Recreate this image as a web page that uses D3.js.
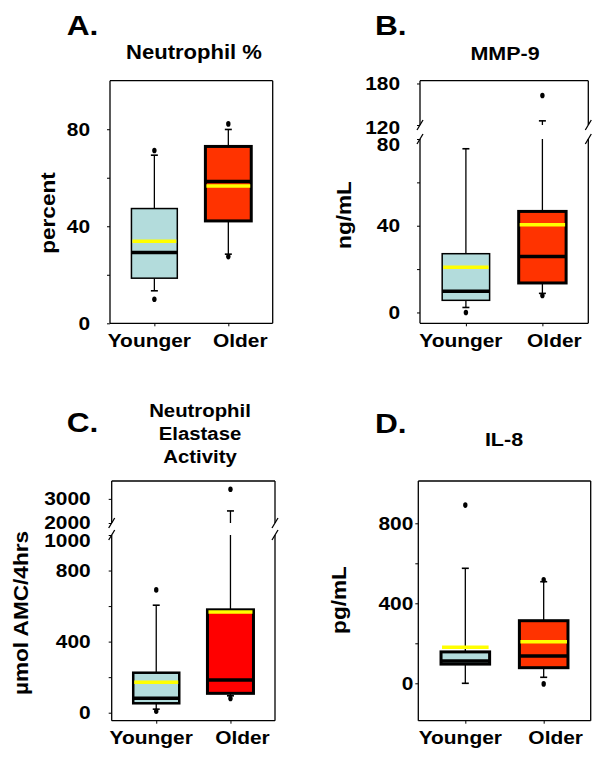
<!DOCTYPE html>
<html>
  <head>
    <meta charset="utf-8">
    <title>Box plots</title>
    <script src="https://d3js.org/d3.v7.min.js"></script>
    <style type="text/css">
      body { margin: 0; background: #fff; }
      text { font-family: "Liberation Sans", Arial, sans-serif; font-weight: bold; fill: #000; }
    </style>
  </head>
  <body>
    <script type="text/javascript">

      var groups = ["Younger", "Older"];

      // A. Neutrophil %
      var neutLow = [13.4, 28.5], neutQ1 = [18.6, 42.2], neutMed = [29.2, 58.5],
          neutQ3 = [47.3, 72.9], neutHigh = [69.3, 79.9], neutMean = [33.8, 56.6];
      var neutOut = [[9.9, 71.2], [27.5, 82.2]];

      // B. MMP-9 (ng/mL)
      var mmpLow = [2.3, 8.8], mmpQ1 = [5.6, 13.6], mmpMed = [9.8, 25.8],
          mmpQ3 = [27.1, 46.6], mmpHigh = [75.5, 126], mmpMean = [20.9, 40.5];
      var mmpOut = [[0], [7.8, 162.6]];

      // C. Neutrophil elastase activity (umol AMC/4hrs)
      var elaLow = [20, 95], elaQ1 = [53, 109], elaMed = [81, 184],
          elaQ3 = [225, 579], elaHigh = [605, 2500], elaMean = [171, 566];
      var elaOut = [[8, 691], [80, 3400]];

      // D. IL-8 (pg/mL)
      var ilLow = [0, 30], ilQ1 = [96, 78], ilMed = [111, 137],
          ilQ3 = [157, 313], ilHigh = [575, 508], ilMean = [180, 208];
      var ilOut = [[891], [-3, 518]];

      var stretch = 1.13;
      var blue = "#b3dcdc";

      var panels = [
        { letter: "A.", lx: 66.7, ly: 35, title: ["Neutrophil %"], tx: 194, ty: [59], tsize: 19.5,
          ylab: "percent", ylx: 55, yly: 213,
          frame: [110, 272.7, 80.7, 323.3], ydom: [0, 100], yrng: [323.3, 80.7], brk: null,
          major: [0, 40, 80], minor: [20, 60], pad: 17, red: "#ff3300", youngSw: 1.5,
          low: neutLow, q1: neutQ1, med: neutMed, q3: neutQ3, high: neutHigh, mean: neutMean, out: neutOut },
        { letter: "B.", lx: 375, ly: 35, title: ["MMP-9"], tx: 505, ty: [60], tsize: 19,
          ylab: "ng/mL", ylx: 351, yly: 215,
          frame: [420, 588.3, 80.7, 323.3], ydom: [-5, 80, 120, 184], yrng: [323.3, 139, 125, 80.7], brk: [80, 120],
          brkDy: ["0.6em", "0.45em"],
          major: [0, 40, 80, 120, 180], minor: [20, 60], pad: 17, red: "#ff3300", youngSw: 1.5,
          low: mmpLow, q1: mmpQ1, med: mmpMed, q3: mmpQ3, high: mmpHigh, mean: mmpMean, out: mmpOut },
        { letter: "C.", lx: 66.7, ly: 431.7, title: ["Neutrophil", "Elastase", "Activity"], tx: 200, ty: [416.7, 440, 463.3], tsize: 18,
          ylab: "\u00b5mol AMC/4hrs", ylx: 28, yly: 613,
          frame: [111.7, 275, 481, 720.7], ydom: [-45, 1000, 2000, 3740], yrng: [720.7, 535, 523, 481], brk: [1000, 2000],
          brkDy: ["0.62em", "0.3em"],
          major: [0, 400, 800, 1000, 2000, 3000], minor: [200, 600], pad: 18, red: "#ff0000", youngSw: 2.5,
          low: elaLow, q1: elaQ1, med: elaMed, q3: elaQ3, high: elaHigh, mean: elaMean, out: elaOut },
        { letter: "D.", lx: 375, ly: 433.3, title: ["IL-8"], tx: 504, ty: [446], tsize: 19,
          ylab: "pg/mL", ylx: 346, yly: 600,
          frame: [418.3, 590.7, 481, 720.7], ydom: [-187, 1011.5], yrng: [720.7, 481], brk: null,
          major: [0, 400, 800], minor: [200, 600], pad: 2, red: "#ff3300", youngSw: 3,
          low: ilLow, q1: ilQ1, med: ilMed, q3: ilQ3, high: ilHigh, mean: ilMean, out: ilOut }
      ];

      var svg = d3.select("body")
          .append("svg")
          .attr("width", 602)
          .attr("height", 762);

      panels.forEach(drawPanel);

      // the original lettering is a bit wider than Liberation Sans
      svg.selectAll("text").each(function() {
        var w = this.getComputedTextLength();
        d3.select(this).attr("textLength", w * stretch).attr("lengthAdjust", "spacingAndGlyphs");
      });

      function drawPanel(p) {
        var g = svg.append("g");
        var x0 = p.frame[0], x1 = p.frame[1], yTop = p.frame[2], yBot = p.frame[3];

        var x = d3.scalePoint().domain(groups).range([x0, x1]).padding(0.6);
        var y = d3.scaleLinear().domain(p.ydom).range(p.yrng);
        var bw = x.step() * 0.62;

        // headings
        g.append("text").attr("x", p.lx).attr("y", p.ly)
            .style("font-size", "28px").text(p.letter);
        p.title.forEach(function(t, i) {
          g.append("text").attr("x", p.tx).attr("y", p.ty[i])
              .attr("text-anchor", "middle").style("font-size", p.tsize + "px").text(t);
        });
        g.append("text")
            .attr("transform", "translate(" + p.ylx + "," + p.yly + ") rotate(-90)")
            .attr("text-anchor", "middle").style("font-size", "20px").text(p.ylab);

        // frame (sides are broken where the axis has a break)
        var frame = g.append("g").attr("stroke", "#000").attr("stroke-width", 1.3).attr("fill", "none");
        frame.append("line").attr("x1", x0).attr("x2", x1).attr("y1", yTop).attr("y2", yTop);
        frame.append("line").attr("x1", x0).attr("x2", x1).attr("y1", yBot).attr("y2", yBot);
        [x0, x1].forEach(function(sx) {
          if (p.brk) {
            var bLo = y(p.brk[0]), bHi = y(p.brk[1]);
            frame.append("line").attr("x1", sx).attr("x2", sx).attr("y1", yBot).attr("y2", bLo);
            frame.append("line").attr("x1", sx).attr("x2", sx).attr("y1", bHi).attr("y2", yTop);
            [bLo, bHi].forEach(function(by) {
              frame.append("line").attr("x1", sx - 3).attr("x2", sx + 3)
                  .attr("y1", by + 5).attr("y2", by - 5);
            });
          } else {
            frame.append("line").attr("x1", sx).attr("x2", sx).attr("y1", yBot).attr("y2", yTop);
          }
        });

        // y axis
        var ya = g.append("g").attr("transform", "translate(" + x0 + ",0)")
            .call(d3.axisLeft(y).tickValues(p.major).tickSize(3).tickPadding(p.pad).tickFormat(d3.format("d")));
        ya.select(".domain").remove();
        ya.selectAll("text").style("font-size", "18.5px").style("font-family", null);
        if (p.brk) {
          ya.selectAll(".tick text").filter(function(d) { return d === p.brk[0]; }).attr("dy", p.brkDy[0]);
          ya.selectAll(".tick text").filter(function(d) { return d === p.brk[1]; }).attr("dy", p.brkDy[1]);
        }
        var ym = g.append("g").attr("transform", "translate(" + x0 + ",0)")
            .call(d3.axisLeft(y).tickValues(p.minor).tickSize(3).tickFormat(""));
        ym.select(".domain").remove();

        // x axis
        var xa = g.append("g").attr("transform", "translate(0," + yBot + ")")
            .call(d3.axisBottom(x).tickSize(3).tickFormat(""));
        xa.select(".domain").remove();
        var labelShift = [-5, 12];
        g.selectAll(".xlab").data(groups).join("text")
            .attr("class", "xlab")
            .attr("x", function(d, i) { return x(d) + labelShift[i]; })
            .attr("y", yBot + 23.5)
            .attr("text-anchor", "middle")
            .style("font-size", "18.5px")
            .text(function(d) { return d; });

        // boxes
        groups.forEach(function(grp, i) {
          var cx = x(grp);
          var wg = g.append("g").attr("stroke", "#000").attr("stroke-width", 1.3);

          // upper whisker, cut where it passes the axis break
          var up = [[p.q3[i], p.high[i]]];
          if (p.brk && p.high[i] > p.brk[1]) up = [[p.q3[i], p.brk[0]], [p.brk[1], p.high[i]]];
          up.concat([[p.low[i], p.q1[i]]]).forEach(function(s) {
            wg.append("line").attr("x1", cx).attr("x2", cx).attr("y1", y(s[0])).attr("y2", y(s[1]));
          });
          [p.low[i], p.high[i]].forEach(function(v) {
            wg.append("line").attr("x1", cx - 3.5).attr("x2", cx + 3.5)
                .attr("y1", y(v)).attr("y2", y(v)).attr("stroke-width", 1.6);
          });

          g.append("rect")
              .attr("x", cx - bw / 2).attr("width", bw)
              .attr("y", y(p.q3[i])).attr("height", y(p.q1[i]) - y(p.q3[i]))
              .attr("fill", i === 0 ? blue : p.red)
              .attr("stroke", "#000")
              .attr("stroke-width", i === 0 ? p.youngSw : 3);

          g.append("line")
              .attr("x1", cx - bw / 2).attr("x2", cx + bw / 2)
              .attr("y1", y(p.med[i])).attr("y2", y(p.med[i]))
              .attr("stroke", "#000").attr("stroke-width", 3.5);
          g.append("line")
              .attr("x1", cx - bw / 2 + 1).attr("x2", cx + bw / 2 - 1)
              .attr("y1", y(p.mean[i])).attr("y2", y(p.mean[i]))
              .attr("stroke", "#ffff00").attr("stroke-width", 3.5);

          g.selectAll(null).data(p.out[i]).join("ellipse")
              .attr("cx", cx).attr("cy", function(d) { return y(d); })
              .attr("rx", 2.2).attr("ry", 2.8)
              .attr("fill", "#000");
        });
      }

    </script>
  </body>
</html>
